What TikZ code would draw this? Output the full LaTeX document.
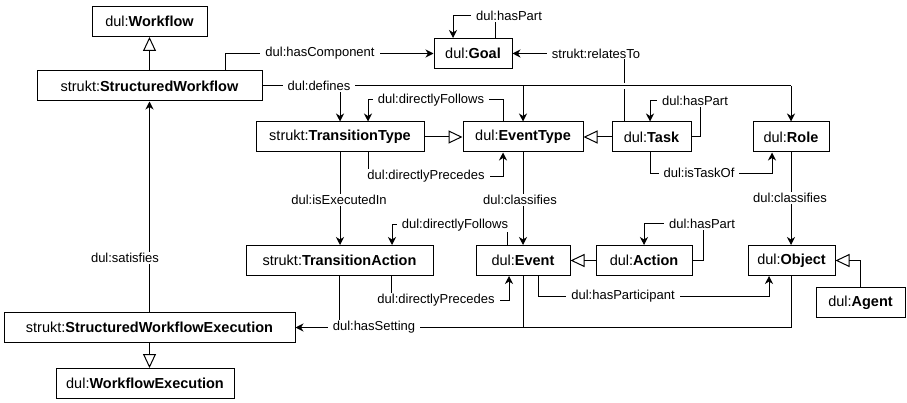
\documentclass[tikz,border=0pt]{standalone}
\usepackage{fontspec}
\setmainfont{Liberation Sans}
\usetikzlibrary{arrows.meta}

\tikzset{
	box/.style={draw, line width=1pt, minimum height=30pt, inner sep=0pt, font=\fontsize{14.5}{18}\selectfont},
	lbl/.style={fill=white, inner xsep=5pt, inner ysep=1pt, font=\fontsize{13}{15}\selectfont},
	rel/.style={line width=1pt, -{Stealth[length=8pt, width=8pt, inset=2.5pt]}},
	isa/.style={line width=1pt, -{Triangle[open, length=14pt, width=13pt]}},
	ln/.style={line width=1pt}
}

\begin{document}
\begin{tikzpicture}[x=1pt, y=-1pt]
			\useasboundingbox (0,0) rectangle (907,403);
			\node[box, minimum width=115pt] (wf) at (149.5,21.5) {dul:\textbf{Workflow}};
			\node[box, minimum width=225pt] (sw) at (149.5,86) {strukt:\textbf{StructuredWorkflow}};
			\node[box, minimum width=78pt] (goal) at (473,53.5) {dul:\textbf{Goal}};
			\node[box, minimum width=168pt] (tt) at (340,137) {strukt:\textbf{TransitionType}};
			\node[box, minimum width=120pt] (et) at (523,137) {dul:\textbf{EventType}};
			\node[box, minimum width=79pt] (task) at (651.5,137) {dul:\textbf{Task}};
			\node[box, minimum width=76pt] (role) at (791,137) {dul:\textbf{Role}};
			\node[box, minimum width=187pt] (ta) at (339.5,260.5) {strukt:\textbf{TransitionAction}};
			\node[box, minimum width=94pt] (ev) at (523,260.5) {dul:\textbf{Event}};
			\node[box, minimum width=96pt] (act) at (644,260.5) {dul:\textbf{Action}};
			\node[box, minimum width=87pt] (obj) at (791.5,260.5) {dul:\textbf{Object}};
			\node[box, minimum width=89pt] (agent) at (860.5,302.5) {dul:\textbf{Agent}};
			\node[box, minimum width=291pt] (swe) at (149.5,327.5) {strukt:\textbf{StructuredWorkflowExecution}};
			\node[box, minimum width=178pt] (wfe) at (145,383.5) {dul:\textbf{WorkflowExecution}};

			\draw[isa] (sw) -- (wf);
			\draw[isa] (swe.south) -- (swe.south |- wfe.north);
			\draw[isa] (tt) -- (et);
			\draw[isa] (task) -- (et);
			\draw[isa] (act) -- (ev);
			\draw[isa] (agent.north) |- (obj.east);

			\draw[rel] ([xshift=75.5pt]sw.north) |- (goal.west);
			\node[lbl] (hascomp) at (320,53.5) {dul:hasComponent};
			\draw[rel] ([xshift=-27.5pt]task.north) |- (goal.east);
			\node[lbl] (relates) at (596,53.5) {strukt:relatesTo};
			\draw[rel] ([xshift=22pt]goal.north) |- ([xshift=-20pt, yshift=22pt]goal.north) -- ([xshift=-20pt]goal.north);
			\node[lbl] (goalpart) at (509,16) {dul:hasPart};

			\draw[ln, preaction={draw=white, line width=6pt}] (sw.east) -- (role.north |- sw.east);
			\draw[rel] (role.north |- sw.east) -- (role.north);
			\draw[rel] (et.north |- sw.east) -- (et.north);
			\draw[rel] (tt.north |- sw.east) -- (tt.north);
			\node[lbl] (defines) at (319,86) {dul:defines};

			\draw[rel] ([xshift=-20pt]et.north) |- ([xshift=28pt, yshift=22pt]tt.north) -- ([xshift=28pt]tt.north);
			\node[lbl] (ttfollows) at (431,100) {dul:directlyFollows};
			\draw[rel] ([xshift=28pt]tt.south) |- ([xshift=-20pt, yshift=-24pt]et.south) -- ([xshift=-20pt]et.south);
			\node[lbl] (ttprecedes) at (426,176) {dul:directlyPrecedes};

			\draw[rel] (task.east) -| ([xshift=9pt, yshift=21pt]task.north east) -| ([xshift=-1.5pt]task.north);
			\node[lbl] (taskpart) at (695,101) {dul:hasPart};
			\draw[rel] ([xshift=-1.5pt]task.south) |- ([xshift=-19pt, yshift=-21pt]role.south) -- ([xshift=-19pt]role.south);
			\node[lbl] (taskof) at (699,173) {dul:isTaskOf};

			\draw[rel] (tt.south) -- (tt.south |- ta.north);
			\node[lbl] (executed) at (339,200) {dul:isExecutedIn};
			\draw[rel] (et.south) -- (ev.north);
			\node[lbl] (etclass) at (520,200) {dul:classifies};
			\draw[rel] (role.south) -- (role.south |- obj.north);
			\node[lbl] (roleclass) at (790,198) {dul:classifies};

			\draw[rel] ([xshift=-16pt]ev.north) |- ([xshift=52.5pt, yshift=20pt]ta.north) -- ([xshift=52.5pt]ta.north);
			\node[lbl] (tafollows) at (455,225) {dul:directlyFollows};
			\draw[rel] ([xshift=51.5pt]ta.south) |- ([xshift=-14pt, yshift=-24pt]ev.south) -- ([xshift=-14pt]ev.south);
			\node[lbl] (taprecedes) at (436,300) {dul:directlyPrecedes};

			\draw[rel] (act.east) -| ([xshift=11pt, yshift=21pt]act.north east) -| (act.north);
			\node[lbl] (actpart) at (702,224) {dul:hasPart};

			\draw[rel] ([xshift=15pt]ev.south) |- ([xshift=-22.5pt, yshift=-20pt]obj.south) -- ([xshift=-22.5pt]obj.south);
			\node[lbl] (participant) at (623,296) {dul:hasParticipant};

			\draw[rel] (obj.south) |- (swe.east);
			\draw[ln] (ev.south) -- (ev.south |- swe.east);
			\draw[ln] (ta.south) -- (ta.south |- swe.east);
			\node[lbl] (setting) at (374,327.5) {dul:hasSetting};

			\draw[rel] (swe.north) -- (sw.south);
			\node[lbl] (satisfies) at (125,258) {dul:satisfies};
		\end{tikzpicture}
\end{document}
